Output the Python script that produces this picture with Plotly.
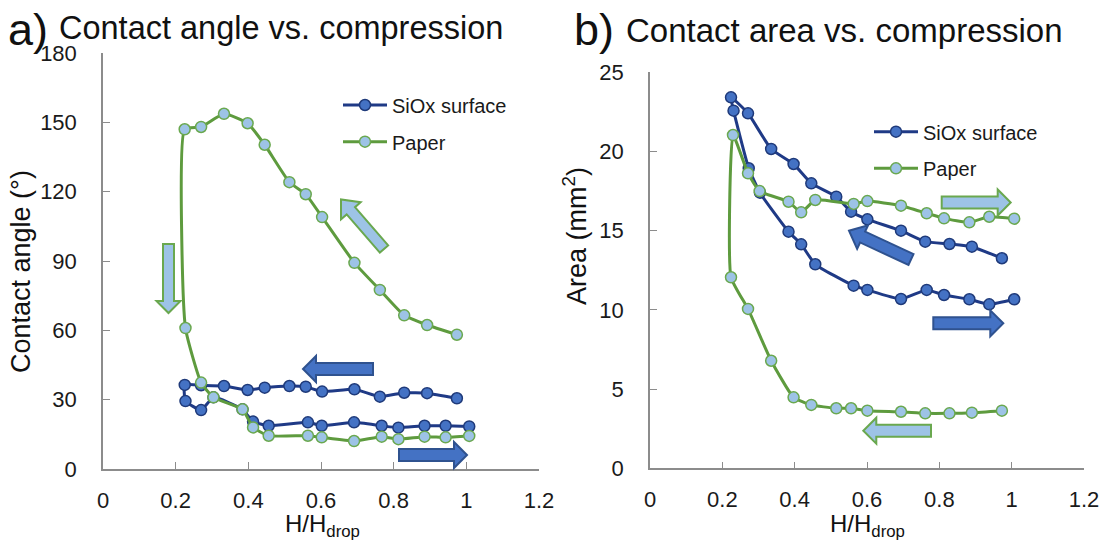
import math
import plotly.graph_objects as go

# ---------------- data ----------------
# Panel a) contact angle
a_siox_x = [0.974, 0.892, 0.829, 0.762, 0.692, 0.603, 0.558, 0.513, 0.445, 0.398, 0.333, 0.270, 0.225,
            0.227, 0.270, 0.304, 0.384, 0.413, 0.456, 0.564, 0.602, 0.691, 0.767, 0.813, 0.885, 0.943, 1.008]
a_siox_y = [30.6, 32.8, 33.0, 31.3, 34.5, 33.5, 35.6, 35.9, 35.2, 34.2, 35.9, 36.2, 36.4,
            29.4, 25.5, 31.0, 25.8, 20.5, 18.7, 20.2, 18.7, 20.2, 18.7, 17.9, 18.7, 18.7, 18.4]
a_paper_x = [0.974, 0.892, 0.829, 0.762, 0.692, 0.603, 0.558, 0.513, 0.445, 0.398, 0.333, 0.270, 0.2248,
             0.227, 0.270, 0.304, 0.384, 0.413, 0.456, 0.564, 0.602, 0.691, 0.767, 0.813, 0.885, 0.943, 1.008]
a_paper_y = [58.1, 62.3, 66.5, 77.5, 89.2, 109.0, 118.9, 124.1, 140.3, 149.6, 153.7, 148.0, 147.0,
             61.0, 37.4, 31.0, 25.8, 18.0, 14.4, 14.4, 13.7, 12.1, 14.0, 12.9, 14.0, 13.7, 14.3]

# Panel b) contact area
b_siox_x = [0.973, 0.890, 0.828, 0.761, 0.694, 0.601, 0.556, 0.515, 0.446, 0.397, 0.335, 0.271, 0.224,
            0.231, 0.273, 0.304, 0.383, 0.418, 0.457, 0.563, 0.601, 0.694, 0.765, 0.813, 0.883, 0.938, 1.007]
b_siox_y = [13.26, 13.99, 14.16, 14.31, 15.0, 15.72, 16.2, 17.15, 17.99, 19.21, 20.16, 22.41, 23.42,
            22.58, 18.94, 17.4, 14.94, 14.14, 12.88, 11.53, 11.26, 10.69, 11.26, 10.94, 10.67, 10.35, 10.67]
b_paper_x = [0.973, 0.890, 0.828, 0.761, 0.694, 0.601, 0.556, 0.515, 0.446, 0.397, 0.335, 0.271, 0.224,
             0.2295, 0.271, 0.303, 0.383, 0.418, 0.457, 0.563, 0.601, 0.694, 0.765, 0.813, 0.883, 0.938, 1.007]
b_paper_y = [3.64, 3.51, 3.47, 3.47, 3.57, 3.64, 3.79, 3.79, 4.0, 4.48, 6.79, 10.06, 12.06,
             21.04, 18.62, 17.5, 16.83, 16.16, 16.94, 16.69, 16.87, 16.58, 16.1, 15.78, 15.53, 15.88, 15.76]

series_names = ["SiOx surface", "Paper"]
a_yticks = [0, 30, 60, 90, 120, 150, 180]
b_yticks = [0, 5, 10, 15, 20, 25]
xticks = [0, 0.2, 0.4, 0.6, 0.8, 1, 1.2]
xticktext = ["0", "0.2", "0.4", "0.6", "0.8", "1", "1.2"]

# ---------------- style ----------------
W, H = 1110, 555
FONT = "Liberation Sans, Arial, sans-serif"
BLUE_LINE = "#1F3A86"
BLUE_FILL = "#4472C4"
BLUE_EDGE = "#1F3A7A"
GREEN_LINE = "#5E9B3E"
GREEN_FILL = "#9DC3E6"
GREEN_EDGE = "#6AA84F"
AX = "#8C8C8C"


def px_x(p):
    return p / W


def px_y(p):
    return 1 - p / H


def trace(x, y, name, line, fill, edge, xa, ya, legend):
    return go.Scatter(
        x=x, y=y, name=name, mode="lines+markers",
        line=dict(color=line, width=3, shape="spline", smoothing=0.45),
        marker=dict(size=11, color=fill, line=dict(color=edge, width=1.5)),
        xaxis=xa, yaxis=ya, legend=legend, showlegend=True,
    )


fig = go.Figure()
fig.add_trace(trace(a_siox_x, a_siox_y, series_names[0], BLUE_LINE, BLUE_FILL, BLUE_EDGE, "x", "y", "legend"))
fig.add_trace(trace(a_paper_x, a_paper_y, series_names[1], GREEN_LINE, GREEN_FILL, GREEN_EDGE, "x", "y", "legend2"))
fig.add_trace(trace(b_siox_x, b_siox_y, series_names[0], BLUE_LINE, BLUE_FILL, BLUE_EDGE, "x2", "y2", "legend3"))
fig.add_trace(trace(b_paper_x, b_paper_y, series_names[1], GREEN_LINE, GREEN_FILL, GREEN_EDGE, "x2", "y2", "legend4"))

tickfont = dict(family=FONT, size=22, color="#1a1a1a")
common_x = dict(range=[0, 1.2], tickvals=xticks, ticktext=xticktext, showgrid=False, zeroline=False,
                showline=True, linecolor=AX, linewidth=1.5, ticks="inside", ticklen=7, tickcolor=AX,
                tickwidth=1.2, tickfont=tickfont, ticklabelstandoff=11, automargin=False)
common_y = dict(showgrid=False, zeroline=False, showline=True, linecolor=AX, linewidth=1.5,
                ticks="inside", ticklen=7, tickcolor=AX, tickwidth=1.2, tickfont=tickfont,
                ticklabelstandoff=20, automargin=False)


def leg(xp, yc):
    return dict(x=px_x(xp), y=px_y(yc), xanchor="left", yanchor="middle", bgcolor="rgba(0,0,0,0)",
                font=dict(family=FONT, size=20, color="#1a1a1a"), itemwidth=44, borderwidth=0)


fig.update_layout(
    template="none",
    width=W, height=H, margin=dict(l=0, r=0, t=0, b=0, pad=0),
    paper_bgcolor="white", plot_bgcolor="white",
    xaxis=dict(domain=[px_x(103), px_x(539)], anchor="y", **common_x),
    yaxis=dict(domain=[px_y(469), px_y(53)], anchor="x", range=[0, 180], tickvals=a_yticks, **common_y),
    xaxis2=dict(domain=[px_x(650), px_x(1084)], anchor="y2", **common_x),
    yaxis2=dict(domain=[px_y(468.3), px_y(72.3)], anchor="x2", range=[0, 25], tickvals=b_yticks, **common_y),
    legend=leg(338, 105),
    legend2=leg(338, 141.7),
    legend3=leg(869, 131.7),
    legend4=leg(869, 168.3),
)

# ---------------- text ----------------
ann = []
def text(x, y, s, size, xanchor="left", yanchor="middle", angle=0):
    ann.append(dict(x=px_x(x), y=px_y(y), xref="paper", yref="paper", text=s, showarrow=False,
                    xanchor=xanchor, yanchor=yanchor, textangle=angle,
                    font=dict(family=FONT, size=size, color="#111")))

text(6, 29, "a)", 45)
text(57, 28, "Contact angle vs. compression", 32.5)
text(572, 29, "b)", 45)
text(624, 30, "Contact area vs. compression", 33)
text(21, 272, "Contact angle (°)", 27, xanchor="center", angle=-90)
text(575, 236, "Area (mm<sup>2</sup>)", 27, xanchor="center", angle=-90)
text(322, 525, "H/H<sub>drop</sub>", 24, xanchor="center")
text(867, 525, "H/H<sub>drop</sub>", 24, xanchor="center")
fig.update_layout(annotations=ann)

# ---------------- block arrows ----------------
def arrow(x0, y0, x1, y1, fill, edge, ws=12, wh=26, lh=13):
    dx, dy = x1 - x0, y1 - y0
    L = math.hypot(dx, dy)
    ux, uy = dx / L, dy / L
    nx, ny = -uy, ux
    bx, by = x1 - ux * lh, y1 - uy * lh
    pts = [(x0 + nx * ws / 2, y0 + ny * ws / 2), (bx + nx * ws / 2, by + ny * ws / 2),
           (bx + nx * wh / 2, by + ny * wh / 2), (x1, y1),
           (bx - nx * wh / 2, by - ny * wh / 2), (bx - nx * ws / 2, by - ny * ws / 2),
           (x0 - nx * ws / 2, y0 - ny * ws / 2)]
    path = "M " + " L ".join(f"{px_x(px):.5f},{px_y(py):.5f}" for px, py in pts) + " Z"
    return dict(type="path", xref="paper", yref="paper", path=path, fillcolor=fill,
                line=dict(color=edge, width=2))

BA_FILL, BA_EDGE = "#4472C4", "#2F528F"
GA_FILL, GA_EDGE = "#9DC3E6", "#6AA84F"
shapes = [
    arrow(168.5, 244, 168.5, 313, GA_FILL, GA_EDGE, ws=11, wh=24, lh=12),
    arrow(384, 249, 341, 199.5, GA_FILL, GA_EDGE, ws=11, wh=26, lh=15),
    arrow(373, 369, 303, 369, BA_FILL, BA_EDGE),
    arrow(399, 455, 467, 455, BA_FILL, BA_EDGE),
    arrow(941.7, 202.5, 1010.7, 202.5, GA_FILL, GA_EDGE),
    arrow(911, 259.5, 849, 230.7, BA_FILL, BA_EDGE, ws=12, wh=26, lh=15),
    arrow(933.3, 323.3, 1003.3, 323.3, BA_FILL, BA_EDGE),
    arrow(931, 430.7, 863.3, 430.7, GA_FILL, GA_EDGE),
]
fig.update_layout(shapes=shapes)

fig.write_html("out.html")
